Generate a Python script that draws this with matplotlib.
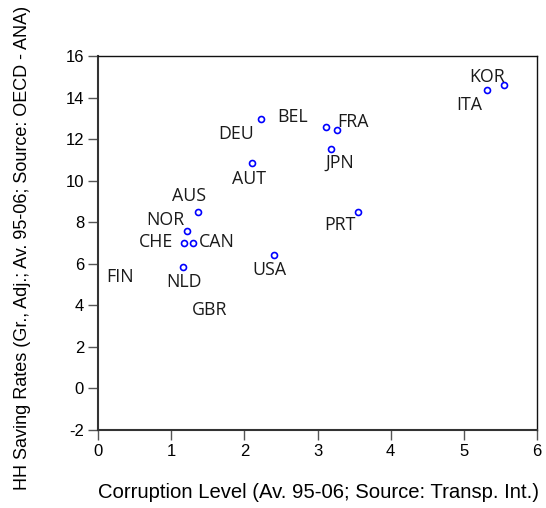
import matplotlib
matplotlib.use("Agg")
import matplotlib.pyplot as plt
import numpy as np

countries = ["KOR", "ITA", "BEL", "FRA", "DEU", "JPN", "AUT", "AUS", "PRT",
             "NOR", "CHE", "CAN", "USA", "NLD", "FIN", "GBR"]
corruption = [5.55, 5.31, 2.23, 3.26, 3.11, 3.19, 2.10, 1.36, 3.55,
              1.21, 1.17, 1.30, 2.40, 1.16, np.nan, np.nan]
saving = [14.62, 14.35, 12.97, 12.44, 12.58, 11.52, 10.87, 8.49, 8.48,
          7.60, 7.00, 7.00, 6.44, 5.85, np.nan, np.nan]
label_x = [5.32, 5.07, 2.66, 3.49, 1.89, 3.30, 2.07, 1.25, 3.31,
           0.92, 0.79, 1.62, 2.34, 1.17, 0.30, 1.53]
label_y = [15.00, 13.63, 13.08, 12.81, 12.26, 10.88, 10.07, 9.25, 7.85,
           8.12, 7.03, 7.03, 5.70, 5.11, 5.38, 3.76]

xticks = [0, 1, 2, 3, 4, 5, 6]
yticks = [-2, 0, 2, 4, 6, 8, 10, 12, 14, 16]

fig = plt.figure(figsize=(5.46, 5.08), dpi=100)
ax = fig.add_axes([98/546, 1-430/508, (537-98)/546, (430-56)/508])

ax.plot(corruption, saving, linestyle="none", marker="o", ms=4.3,
        mfc="none", mec="#0000ff", mew=1.2)
for c, lx, ly in zip(countries, label_x, label_y):
    ax.text(lx, ly, c, ha="center", va="center", fontsize=12.8,
            family="Open Sans", color="#1a1a1a")

ax.set_xlim(0, 6)
ax.set_ylim(-2, 16)
ax.set_xticks(xticks)
ax.set_yticks(yticks)
ax.set_xticklabels([str(t) for t in xticks], family="Liberation Sans", fontsize=12)
ax.set_yticklabels([str(t) for t in yticks], family="Liberation Sans", fontsize=12)
ax.tick_params(direction="out", length=7, width=1, top=False, right=False,
               color="#555555", pad=3)
for s in ["left", "bottom"]:
    ax.spines[s].set_linewidth(1.5)
    ax.spines[s].set_color("#333333")
for s in ["top", "right"]:
    ax.spines[s].set_linewidth(1.0)
    ax.spines[s].set_color("#111111")

fig.text(319/546, 1-492/508, "Corruption Level (Av. 95-06; Source: Transp. Int.)",
         ha="center", va="center", family="Liberation Sans", fontsize=14.6)
fig.text(23/546, 1-248/508, "HH Saving Rates (Gr., Adj.; Av. 95-06; Source: OECD - ANA)",
         ha="center", va="center", rotation=90, family="Liberation Sans", fontsize=13)

fig.savefig("out.png", dpi=100)
